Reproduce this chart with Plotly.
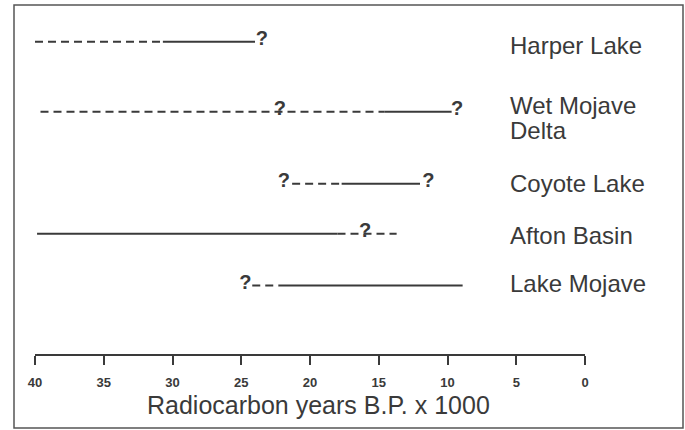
import plotly.graph_objects as go

# ---- data (ages in thousands of radiocarbon years B.P.) ----
sites = ["Harper Lake", "Wet Mojave<br>Delta", "Coyote Lake", "Afton Basin", "Lake Mojave"]
dashed_start = [40.0, 39.6, 21.3, 18.0, 24.2]
dashed_end = [30.7, 14.6, 17.7, 13.7, 22.3]
solid_start = [30.7, 14.6, 17.7, 39.85, 22.3]
solid_end = [24.0, 9.7, 12.0, 18.0, 8.9]
question_site = [0, 1, 1, 2, 2, 3, 4]
question_age = [23.5, 22.2, 9.3, 21.9, 11.4, 16.0, 24.7]
tick_values = [40, 35, 30, 25, 20, 15, 10, 5, 0]
tick_labels = ["40", "35", "30", "25", "20", "15", "10", "5", "0"]
x_title = "Radiocarbon years B.P. x 1000"

# ---- layout constants (positions/styles) ----
row_y = [9.35, 7.25, 5.1, 3.6, 2.05]
label_shift = [-4, 6, 0, -2, 2]
INK = "#3a3a3a"
FONT = "Liberation Sans, Arial, sans-serif"

fig = go.Figure()

dx, dy = [], []
for i in range(len(sites)):
    dx += [dashed_start[i], dashed_end[i], None]
    dy += [row_y[i], row_y[i], None]
fig.add_trace(go.Scatter(x=dx, y=dy, mode="lines",
                         line=dict(color=INK, width=2, dash="8px,5px"),
                         hoverinfo="skip", showlegend=False))

sx, sy = [], []
for i in range(len(sites)):
    sx += [solid_start[i], solid_end[i], None]
    sy += [row_y[i], row_y[i], None]
fig.add_trace(go.Scatter(x=sx, y=sy, mode="lines",
                         line=dict(color=INK, width=2),
                         hoverinfo="skip", showlegend=False))

fig.add_trace(go.Scatter(x=question_age, y=[row_y[s] + 0.05 for s in question_site],
                         mode="text", text=["?"] * len(question_age),
                         textposition="middle center",
                         textfont=dict(family=FONT, size=20, color=INK, weight="bold"),
                         hoverinfo="skip", showlegend=False))

# site labels
for i, name in enumerate(sites):
    parts = name.split("<br>")
    for j, p in enumerate(parts):
        fig.add_annotation(x=0.86, xref="paper", y=row_y[i], yref="y",
                           text=p, showarrow=False, xanchor="left", yanchor="middle",
                           yshift=label_shift[i] - 25 * j,
                           font=dict(family=FONT, size=24, color=INK))

# axis title
fig.add_annotation(x=0.516, xref="paper", y=-0.153, yref="paper", text=x_title,
                   showarrow=False, xanchor="center", yanchor="middle",
                   font=dict(family=FONT, size=25, color=INK))

# frame
fig.add_shape(type="rect", xref="paper", yref="paper",
              x0=(14 - 35) / 550, x1=(683 - 35) / 550,
              y0=(354 - 428) / 334, y1=(354 - 5) / 334,
              line=dict(color="#555555", width=1.5))

fig.update_xaxes(range=[40, 0], tickmode="array", tickvals=tick_values, ticktext=tick_labels,
                 showline=True, linecolor=INK, linewidth=2,
                 ticks="outside", ticklen=9, tickwidth=2, tickcolor=INK,
                 tickfont=dict(family=FONT, size=13, color=INK, weight="bold"),
                 ticklabelstandoff=6,
                 showgrid=False, zeroline=False, fixedrange=True)
fig.update_yaxes(range=[0, 10], visible=False, showgrid=False, zeroline=False, fixedrange=True)

fig.update_layout(width=685, height=430,
                  margin=dict(l=35, r=100, t=20, b=76),
                  paper_bgcolor="white", plot_bgcolor="white",
                  showlegend=False)

fig.write_html("out.html", config={"displayModeBar": False},
               post_script="document.body.style.margin='0';document.body.style.overflow='hidden';")
